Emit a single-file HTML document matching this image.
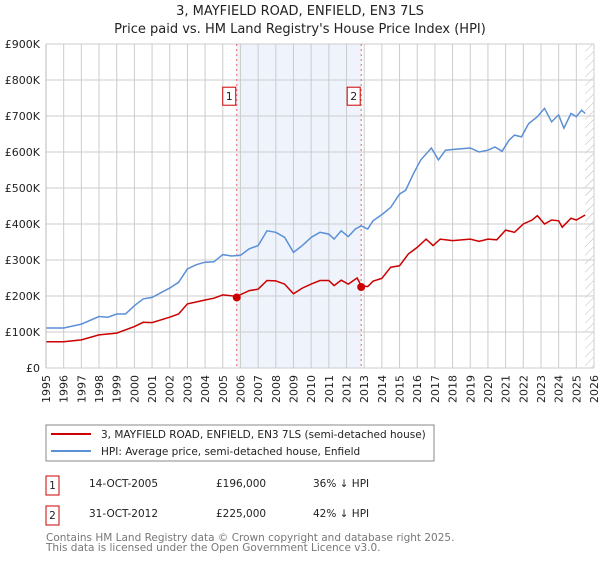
<!DOCTYPE html>
<html><head><meta charset="utf-8">
<style>
body{margin:0;background:#fff;width:600px;height:560px;overflow:hidden;font-family:"DejaVu Sans","Liberation Sans",sans-serif;}
svg text{font-family:"DejaVu Sans","Liberation Sans",sans-serif;}
</style></head>
<body>
<svg id="chart" width="600" height="560" viewBox="0 0 600 560" xmlns="http://www.w3.org/2000/svg">
<defs>
<pattern id="hatch" patternUnits="userSpaceOnUse" width="6" height="6" patternTransform="rotate(45)">
<line x1="0" y1="0" x2="0" y2="6" stroke="#bbb" stroke-width="1"/>
</pattern>
</defs>
<text x="300" y="15" text-anchor="middle" font-size="13" fill="#222">3, MAYFIELD ROAD, ENFIELD, EN3 7LS</text>
<text x="300" y="33" text-anchor="middle" font-size="13" fill="#222">Price paid vs. HM Land Registry's House Price Index (HPI)</text>
<g id="grid"></g>
<g id="marks"></g>
<g id="axes"></g>
<g>
<rect x="46" y="425" width="388" height="36" fill="#fff" stroke="#888"/>
<line x1="51" y1="434" x2="91" y2="434" stroke="#cc0000" stroke-width="2"/>
<text x="101" y="438" font-size="10.5" fill="#222">3, MAYFIELD ROAD, ENFIELD, EN3 7LS (semi-detached house)</text>
<line x1="51" y1="451" x2="91" y2="451" stroke="#5b8fd6" stroke-width="2"/>
<text x="101" y="455" font-size="10.5" fill="#222">HPI: Average price, semi-detached house, Enfield</text>
</g>
<g font-size="10.5" fill="#222">
<rect x="46" y="476" width="13" height="19" fill="#fff" stroke="#cc0000"/>
<text x="52.5" y="489" text-anchor="middle">1</text>
<text x="89" y="487">14-OCT-2005</text>
<text x="216" y="487">£196,000</text>
<text x="313" y="487">36% ↓ HPI</text>
<rect x="46" y="506" width="13" height="19" fill="#fff" stroke="#cc0000"/>
<text x="52.5" y="519" text-anchor="middle">2</text>
<text x="89" y="517">31-OCT-2012</text>
<text x="216" y="517">£225,000</text>
<text x="313" y="517">42% ↓ HPI</text>
</g>
<text x="46" y="541" font-size="10.5" fill="#777">Contains HM Land Registry data © Crown copyright and database right 2025.</text>
<text x="46" y="551" font-size="10.5" fill="#777">This data is licensed under the Open Government Licence v3.0.</text>
</svg>
<script>
const hpiYears=[1995,1996,1997,1998,1998.5,1999,1999.5,2000,2000.5,2001,2002,2002.5,2003,2003.5,2004,2004.5,2005,2005.5,2006,2006.5,2007,2007.5,2008,2008.5,2009,2009.5,2010,2010.5,2011,2011.3,2011.7,2012.1,2012.5,2012.83,2013.2,2013.5,2014,2014.5,2015,2015.35,2015.8,2016.2,2016.8,2017.2,2017.6,2018,2018.5,2019,2019.5,2020,2020.4,2020.8,2021.2,2021.5,2021.9,2022.3,2022.8,2023.2,2023.6,2024,2024.3,2024.7,2025,2025.3,2025.5];
const hpiValues=[111,111,122,143,141,150,150,173,192,196,222,238,275,287,294,295,315,311,313,331,340,381,377,363,321,340,363,377,372,358,381,365,386,395,386,409,426,446,483,494,541,578,611,578,605,607,609,611,600,605,614,602,633,647,642,679,698,721,684,703,666,707,698,716,707];
const priceYears=[1995,1996,1997,1998,1999,2000,2000.5,2001,2002,2002.5,2003,2004,2004.5,2005,2005.79,2006.5,2007,2007.5,2008,2008.5,2009,2009.5,2010,2010.5,2011,2011.3,2011.7,2012.1,2012.6,2012.83,2013.2,2013.5,2014,2014.5,2015,2015.5,2016,2016.5,2016.9,2017.3,2018,2019,2019.5,2020,2020.5,2021,2021.5,2022,2022.5,2022.8,2023.2,2023.6,2024,2024.2,2024.7,2025,2025.5];
const priceValues=[73,73,78,92,97,115,127,126,141,150,178,189,194,203,199,215,219,243,242,233,206,222,233,243,243,229,244,233,250,229,226,241,249,280,284,317,335,358,340,358,354,358,352,358,356,383,377,400,411,423,400,411,409,391,416,411,425];
const saleYears=[2005.79,2012.83];
const saleValues=[196,225];
const saleLabels=['1','2'];
const yTicks=[0,100,200,300,400,500,600,700,800,900];
const yTickLabels=['£0','£100K','£200K','£300K','£400K','£500K','£600K','£700K','£800K','£900K'];
const xTicks=[1995,1996,1997,1998,1999,2000,2001,2002,2003,2004,2005,2006,2007,2008,2009,2010,2011,2012,2013,2014,2015,2016,2017,2018,2019,2020,2021,2022,2023,2024,2025,2026];

const NS='http://www.w3.org/2000/svg';
const L=46,R=594,T=44,B=368;
function X(y){return L+(y-1995)/(2026-1995)*(R-L);}
function Y(v){return B-v/900*(B-T);}
function mk(tag,attrs,parent){const e=document.createElementNS(NS,tag);for(const k in attrs)e.setAttribute(k,attrs[k]);parent.appendChild(e);return e;}
const grid=document.getElementById('grid'),marks=document.getElementById('marks'),axes=document.getElementById('axes');

const band=mk('rect',{x:X(saleYears[0]),y:T,width:X(saleYears[1])-X(saleYears[0]),height:B-T,fill:'#eef3fc'},grid);


const hatch=mk('rect',{x:X(2025.5),y:T,width:R-X(2025.5),height:B-T,fill:'url(#hatch)'},grid);



xTicks.forEach(t=>{
  const g=mk('line',{x1:X(t),x2:X(t),y1:T,y2:B,stroke:'#ccc','stroke-width':1},grid);
  
  
  const lb=mk('text',{x:0,y:0,'font-size':11,fill:'#222','text-anchor':'end',transform:`translate(${X(t)+4},${B+7}) rotate(-90)`},axes);
  lb.textContent=t;
  
  
});
yTicks.forEach((t,i)=>{
  const g=mk('line',{x1:L,x2:R,y1:Y(t),y2:Y(t),stroke:'#ccc','stroke-width':1},grid);
  
  
  const lb=mk('text',{x:L-6,y:Y(t)+4,'font-size':11,fill:'#222','text-anchor':'end'},axes);
  lb.textContent=yTickLabels[i];
  
  
});
const ax=mk('line',{x1:L,x2:L,y1:T,y2:B,stroke:'#bbb'},axes);



saleYears.forEach((s,i)=>{
  const vl=mk('line',{x1:X(s),x2:X(s),y1:T,y2:B,stroke:'#f06060','stroke-dasharray':'2,3','stroke-width':1},marks);
  
  
  const bx=mk('rect',{x:X(s)-14,y:Y(780),width:13,height:18,fill:'#fff',stroke:'#cc0000'},marks);
  
  
  const tx=mk('text',{x:X(s)-7.5,y:Y(780)+13,'font-size':11,fill:'#222','text-anchor':'middle'},marks);
  tx.textContent=saleLabels[i];
  
  
});

function path(xs,vs){return xs.map((x,i)=>(i?'L':'M')+X(x).toFixed(1)+','+Y(vs[i]).toFixed(1)).join(' ');}
const hp=mk('path',{d:path(hpiYears,hpiValues),fill:'none',stroke:'#5b8fd6','stroke-width':1.5},marks);


const pp=mk('path',{d:path(priceYears,priceValues),fill:'none',stroke:'#cc0000','stroke-width':1.5},marks);


saleYears.forEach((s,i)=>{
  const c=mk('circle',{cx:X(s),cy:Y(saleValues[i]),r:4,fill:'#cc0000'},marks);
  
  
});
</script>
</body></html>
